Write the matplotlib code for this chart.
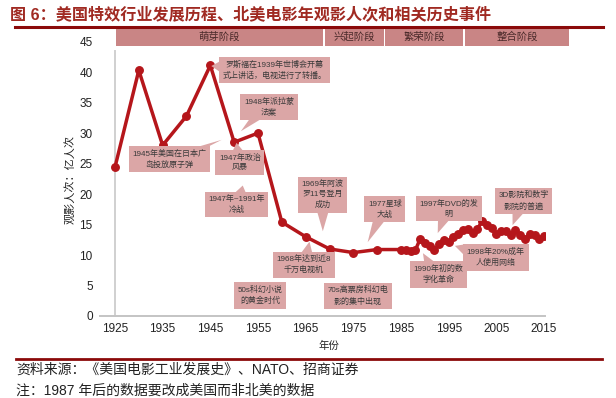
"""
US special-effects industry timeline with North American annual cinema
admissions (100 million) and related historical events.
"""

import matplotlib.pyplot as plt
from matplotlib.lines import Line2D
from matplotlib.patches import Rectangle, Polygon

plt.rcParams["font.family"] = ["Liberation Sans", "Noto Sans CJK SC"]

# admissions, 100 million per year
years = list(range(1925, 1986, 5)) + list(range(1986, 2016))
admissions = [
    24.4, 40.3, 28.0, 32.8, 41.1, 28.5, 30.0, 15.4, 13.0, 11.0, 10.4, 10.9, 10.9,
    10.8, 10.7, 10.8, 12.6, 11.9, 11.5, 10.9, 11.8, 12.5, 12.1,
    13.0, 13.4, 14.1, 14.2, 13.6, 14.2, 15.6, 14.9, 14.5, 13.4,
    14.0, 14.0, 13.3, 14.1, 13.3, 12.6, 13.4, 13.3, 12.6, 13.1,
]

tick_years = [1925, 1935, 1945, 1955, 1965, 1975, 1985, 1995, 2005, 2015]
y_ticks = [0, 5, 10, 15, 20, 25, 30, 35, 40, 45]

stage_names = ["萌芽阶段", "兴起阶段", "繁荣阶段", "整合阶段"]
stage_edges = [1925, 1968.8, 1981.5, 1998.2, 2020.4]

# event callouts: text, box centre (year, value), pointer tip or None
event_texts = [
    "罗斯福在1939年世博会开幕\n式上讲话，电视进行了转播。",
    "1948年派拉蒙\n法案",
    "1945年美国在日本广\n岛投放原子弹",
    "1947年政治\n风暴",
    "1947年~1991年\n冷战",
    "1969年阿波\n罗11号登月\n成功",
    "1968年达到近8\n千万电视机",
    "50s科幻小说\n的黄金时代",
    "70s高票房科幻电\n影的集中出现",
    "1977星球\n大战",
    "1997年DVD的发\n明",
    "1990年初的数\n字化革命",
    "1998年20%成年\n人使用网络",
    "3D影院和数字\n影院的普遍",
]
event_boxes = [
    (1958.5, 40.3), (1957.3, 34.2), (1936.4, 25.7), (1951.2, 25.2),
    (1950.5, 18.3), (1968.6, 19.9), (1964.6, 8.4), (1955.4, 3.4),
    (1975.9, 3.3), (1981.6, 17.5), (1995.0, 17.6), (1992.9, 6.8),
    (2004.9, 9.6), (2010.7, 18.9),
]
event_tips = [
    (1945.2, 41.0), (1951.4, 30.3), (1947.4, 28.9), (1950.5, 28.4),
    (1951.8, 21.4), (1968.6, 13.9), (1965.8, 12.2), None,
    None, (1978.0, 12.1), (1992.7, 13.6), (1989.6, 10.3),
    (1996.3, 11.5), (2008.4, 14.9),
]

LINE = "#b5161b"
BOX = "#dba6a6"
STAGE = "#c98585"
RULE = "#8b0a0a"
W, H = 616, 398


def add_wedge(ax, txt, tip, half=6):
    """Draw an Excel-like callout pointer from the text box to tip."""
    bb = txt.get_bbox_patch().get_window_extent()
    tx, ty = ax.transData.transform(tip)
    cx, cy = (bb.x0 + bb.x1) / 2, (bb.y0 + bb.y1) / 2
    dx, dy = tx - cx, ty - cy
    if abs(dx) * bb.height > abs(dy) * bb.width:
        ex = bb.x1 - 2 if dx > 0 else bb.x0 + 2
        ey = cy + dy * (ex - cx) / dx
        ey = min(max(ey, bb.y0 + half), bb.y1 - half)
        base = [(ex, ey - half), (ex, ey + half)]
    else:
        ey = bb.y1 - 2 if dy > 0 else bb.y0 + 2
        ex = cx + dx * (ey - cy) / dy
        ex = min(max(ex, bb.x0 + half), bb.x1 - half)
        base = [(ex - half, ey), (ex + half, ey)]
    pts = ax.transData.inverted().transform(base + [(tx, ty)])
    ax.add_patch(Polygon(pts, closed=True, fc=BOX, ec="none",
                         zorder=5.5, clip_on=False))


def main():
    fig = plt.figure(figsize=(W / 100, H / 100), dpi=100)
    ax = fig.add_axes([100 / W, 1 - 316 / H, 445 / W, (316 - 27) / H])

    ax.plot(years, admissions, color=LINE, lw=2.5, marker="o", ms=5.4,
            mec=LINE, mfc=LINE, zorder=4, solid_joinstyle="round")

    ax.set_xlim(1921.86, 2015.2)
    ax.set_ylim(0, 47.4)
    ax.set_xticks(tick_years)
    ax.set_yticks(y_ticks)
    ax.tick_params(axis="both", length=0, labelsize=8.5, colors="#222222")
    ax.tick_params(axis="x", pad=5)
    ax.tick_params(axis="y", pad=16)

    for side in ["top", "right"]:
        ax.spines[side].set_visible(False)
    ax.spines["left"].set_position(("data", 1925))
    ax.spines["left"].set_bounds(0, 43.5)
    ax.spines["left"].set_color("#d0d0d0")
    ax.spines["left"].set_linewidth(1.4)
    ax.spines["bottom"].set_color("#c4c4c4")
    ax.spines["bottom"].set_linewidth(1.4)

    # stage bar
    for i, name in enumerate(stage_names):
        x0, x1 = stage_edges[i] + 0.15, stage_edges[i + 1] - 0.15
        ax.add_patch(Rectangle((x0, 44.3), x1 - x0, 3.1, fc=STAGE, ec="none",
                               zorder=5, clip_on=False))
        ax.text((x0 + x1) / 2, 45.85, name, ha="center", va="center",
                fontsize=7.5, color="#4a2a2a", zorder=6, clip_on=False)

    # event callouts
    texts = []
    for text, xy in zip(event_texts, event_boxes):
        t = ax.text(xy[0], xy[1], text, ha="center", va="center",
                    fontsize=5.8, color="#3a3a3a", linespacing=1.45,
                    zorder=6, clip_on=False,
                    bbox=dict(boxstyle="square,pad=0.45", fc=BOX, ec="none"))
        texts.append(t)

    fig.canvas.draw()
    for t, tip in zip(texts, event_tips):
        if tip is not None:
            add_wedge(ax, t, tip)

    # title, rules and notes
    fig.text(10 / W, 1 - 14 / H,
             "图 6：美国特效行业发展历程、北美电影年观影人次和相关历史事件",
             fontsize=11.6, fontweight="bold", color="#a02a22",
             ha="left", va="center")
    fig.add_artist(Line2D([15 / W, 603 / W], [1 - 27 / H] * 2,
                          color=RULE, lw=2.2))
    fig.add_artist(Line2D([16 / W, 602 / W], [1 - 358.5 / H] * 2,
                          color=RULE, lw=2.0))

    fig.text(329 / W, 1 - 346 / H, "年份", fontsize=7.5, ha="center",
             va="center", color="#222222")
    fig.text(70 / W, 1 - 180 / H, "观影人次：亿人次", fontsize=8,
             rotation=90, ha="center", va="center", color="#222222")
    fig.text(16 / W, 1 - 370 / H,
             "资料来源：《美国电影工业发展史》、NATO、招商证券",
             fontsize=10, ha="left", va="center", color="#222222")
    fig.text(16 / W, 1 - 391 / H,
             "注：1987 年后的数据要改成美国而非北美的数据",
             fontsize=10, ha="left", va="center", color="#222222")

    fig.savefig("out.png", dpi=100)
    plt.close(fig)


if __name__ == "__main__":
    main()
